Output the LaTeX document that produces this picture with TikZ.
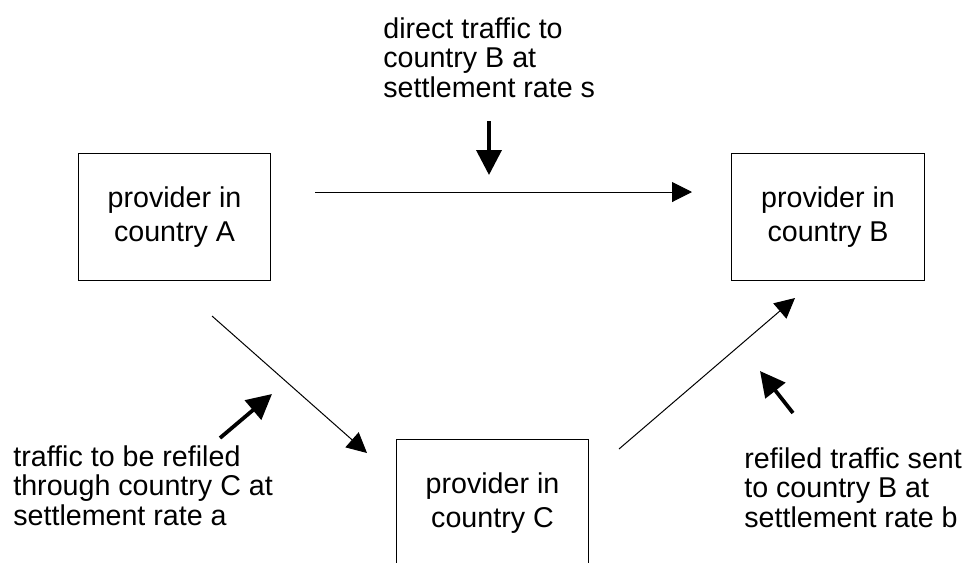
\documentclass[tikz,border=0pt]{standalone}
\usepackage{fontspec}
\setmainfont{Liberation Sans}
\usetikzlibrary{arrows.meta}

\tikzset{
	provider/.style = {draw, line width = 0.02cm, minimum width = 3.86cm, minimum height = 2.56cm, inner sep = 0pt, align = center, font = \fontsize{16.3}{19.6}\selectfont},
	remark/.style = {anchor = north west, inner sep = 0pt, align = left, font = \fontsize{16.3}{16.8}\selectfont},
	flow/.style = {line width = 0.02cm, -{Triangle[length = 0.4cm, width = 0.4cm]}},
	pointer/.style = {line width = 0.075cm, -{Triangle[length = 0.5cm, width = 0.5cm]}}
}

\begin{document}
\begin{tikzpicture}[x = 0.02cm, y = -0.02cm]
	\useasboundingbox (0, 0) rectangle (967, 562);
	\clip (0, 0) rectangle (967, 562);
	
	% the three providers
	\node[provider] (provA) at (174.5, 217) {provider in\\country A};
	\node[provider] (provB) at (828, 217) {provider in\\country B};
	\node[provider] (provC) at (492.5, 503) {provider in\\country C};
	
	% ends of the traffic flows
	\coordinate (directS) at (315, 192);
	\coordinate (directE) at (692, 192);
	\coordinate (refileS) at (212, 316);
	\coordinate (refileE) at (367, 453);
	\coordinate (sentS) at (619, 449);
	\coordinate (sentE) at (795, 298);
	
	\draw[flow] (directS) -- (directE);
	\draw[flow] (refileS) -- (refileE);
	\draw[flow] (sentS) -- (sentE);
	
	% remarks and their pointers
	\node[remark] (rateS) at (383, 17) {direct traffic to\\country B at\\settlement rate s};
	\node[remark] (rateA) at (13, 445) {traffic to be refiled\\through country C at\\settlement rate a};
	\node[remark] (rateB) at (744, 447) {refiled traffic sent\\to country B at\\settlement rate b};
	
	\coordinate (ptrS1) at (489, 121);
	\coordinate (ptrS2) at (489, 175);
	\coordinate (ptrA1) at (220, 438);
	\coordinate (ptrA2) at (272, 394);
	\coordinate (ptrB1) at (793, 413);
	\coordinate (ptrB2) at (760, 371);
	
	\draw[pointer] (ptrS1) -- (ptrS2);
	\draw[pointer] (ptrA1) -- (ptrA2);
	\draw[pointer] (ptrB1) -- (ptrB2);
\end{tikzpicture}
\end{document}
